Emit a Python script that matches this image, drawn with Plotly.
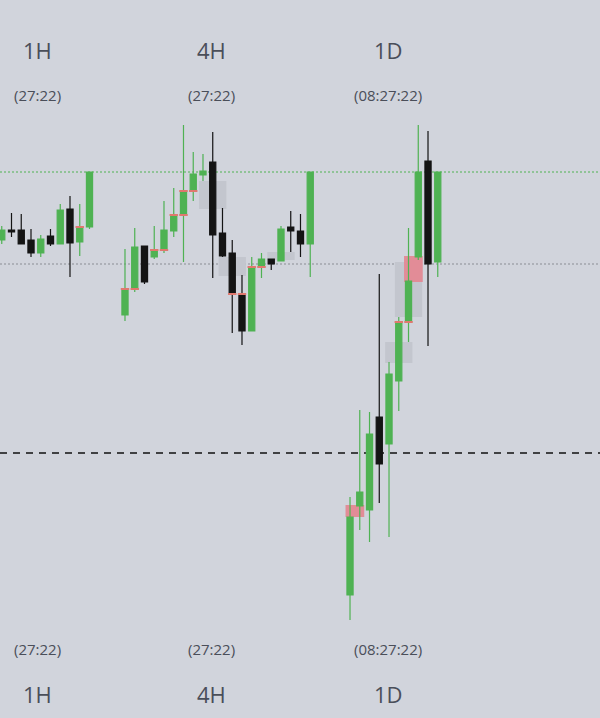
import numpy as np
import plotly.graph_objects as go

# price units: one unit per screen pixel of the original chart
TIMEFRAMES = ['1H', '4H', '1D']
COUNTDOWNS = ['(27:22)', '(27:22)', '(08:27:22)']

open_1h = [478, 488, 488, 478, 465, 482, 474, 509, 476, 491]
high_1h = [492, 505, 504, 489, 483, 489, 514, 522, 514, 546]
low_1h = [474, 481, 474, 461, 461, 472, 474, 441, 462, 489]
close_1h = [488, 486, 474, 465, 479, 474, 508, 475, 491, 546]

open_4h = [403, 429, 472, 461, 468, 487, 503, 527, 543, 556,
           485, 465, 424, 387, 451, 459, 457, 491, 487, 474]
high_4h = [469, 490, 472, 492, 517, 530, 593, 566, 564, 586,
           510, 478, 443, 461, 465, 459, 492, 507, 504, 546]
low_4h = [397, 426, 434, 459, 465, 481, 456, 517, 537, 440,
          461, 385, 373, 387, 440, 448, 457, 466, 461, 441]
close_4h = [429, 471, 436, 468, 488, 503, 527, 544, 547, 483,
            462, 424, 387, 451, 459, 454, 489, 487, 474, 546]

open_1d = [123, 212, 208, 301, 274, 337, 396, 461, 557, 456]
high_1d = [221, 308, 306, 444, 356, 401, 490, 593, 587, 546]
low_1d = [98, 188, 176, 215, 181, 307, 376, 458, 372, 441]
close_1d = [201, 226, 284, 254, 344, 396, 437, 546, 454, 546]

# equal-level markers: (candle index, level)
equal_1h_idx = [8]
equal_1h_lvl = [491]
equal_4h_idx = [0, 1, 3, 4, 5, 6, 6, 7, 11, 12, 13, 14]
equal_4h_lvl = [429, 429, 468, 468, 503, 503, 527, 527, 424, 424, 451, 451]
equal_1d_idx = [5, 6]
equal_1d_lvl = [396, 396]

# higher timeframe ghost bodies: centre candle, low, high
ghost_tf = ['4H', '4H', '4H', '1D', '1D']
ghost_idx = [9, 11, 16, 5, 6]
ghost_low = [509, 442, 458, 355, 401]
ghost_high = [537, 461, 466, 376, 456]

# gaps between two neighbouring candles
gap_tf = ['1D', '1D']
gap_idx = [0, 6]
gap_low = [201, 436]
gap_high = [213, 462]

level_upper = 546
level_mid = 454
level_open = 265

BG = '#d1d4dc'
GREEN = '#4fb253'
BLACK = '#141414'
EQUAL = '#e0786e'
GHOST = '#c3c6ce'
GAP = '#e28c97'
TEXT = '#4a4e59'

SLOT_OFFSET = {'1H': 0.0, '4H': 12.64, '1D': 35.72}
HALF = 0.43

ohlc = {
    '1H': (open_1h, high_1h, low_1h, close_1h),
    '4H': (open_4h, high_4h, low_4h, close_4h),
    '1D': (open_1d, high_1d, low_1d, close_1d),
}
equal = {
    '1H': (equal_1h_idx, equal_1h_lvl),
    '4H': (equal_4h_idx, equal_4h_lvl),
    '1D': (equal_1d_idx, equal_1d_lvl),
}

fig = go.Figure()

for tf in TIMEFRAMES:
    o, h, l, c = ohlc[tf]
    x = SLOT_OFFSET[tf] + np.arange(len(o))
    fig.add_trace(go.Candlestick(
        x=x, open=o, high=h, low=l, close=c,
        increasing=dict(line=dict(color=GREEN, width=1.2), fillcolor=GREEN),
        decreasing=dict(line=dict(color=BLACK, width=1.2), fillcolor=BLACK),
        whiskerwidth=0,
        showlegend=False,
        hoverinfo='skip',
    ))

seg_x, seg_y = [], []
for tf in TIMEFRAMES:
    for i, lvl in zip(*equal[tf]):
        cx = SLOT_OFFSET[tf] + i
        seg_x += [cx - HALF, cx + HALF, None]
        seg_y += [lvl, lvl, None]
fig.add_trace(go.Scatter(
    x=seg_x, y=seg_y, mode='lines',
    line=dict(color=EQUAL, width=2),
    showlegend=False, hoverinfo='skip',
))

shapes = []
for tf, i, lo, hi in zip(ghost_tf, ghost_idx, ghost_low, ghost_high):
    cx = SLOT_OFFSET[tf] + i
    shapes.append(dict(type='rect', xref='x', yref='y', layer='below',
                       x0=cx - 1.4, x1=cx + 1.4, y0=lo, y1=hi,
                       fillcolor=GHOST, line=dict(width=0)))
for tf, i, lo, hi in zip(gap_tf, gap_idx, gap_low, gap_high):
    cx = SLOT_OFFSET[tf] + i
    shapes.append(dict(type='rect', xref='x', yref='y', layer='below',
                       x0=cx - HALF - 0.03, x1=cx + 1 + HALF + 0.03,
                       y0=lo, y1=hi,
                       fillcolor=GAP, line=dict(width=0)))

for lvl, color, dash, width in [
        (level_upper, GREEN, '2px,2px', 1),
        (level_mid, '#8a8d94', '2px,2px', 1),
        (level_open, '#111111', '7px,6px', 1.6)]:
    shapes.append(dict(type='line', xref='paper', yref='y', layer='below',
                       x0=0, x1=1, y0=lvl, y1=lvl,
                       line=dict(color=color, width=width, dash=dash)))

label_x = [0.062, 0.353, 0.647]
annotations = []
for tf, cd, lx in zip(TIMEFRAMES, COUNTDOWNS, label_x):
    for ty, text, size in [(0.930, tf, 22), (0.868, cd, 15),
                           (0.096, cd, 15), (0.033, tf, 22)]:
        annotations.append(dict(
            x=lx, y=ty, xref='paper', yref='paper', text=text,
            showarrow=False, xanchor='center', yanchor='middle',
            font=dict(family='Open Sans, sans-serif', size=size, color=TEXT),
        ))

fig.update_layout(
    width=600, height=718,
    margin=dict(l=0, r=0, t=0, b=0),
    paper_bgcolor=BG, plot_bgcolor=BG,
    boxgap=0.1,
    shapes=shapes,
    annotations=annotations,
    xaxis=dict(range=[-0.18, 61.36], visible=False,
               rangeslider=dict(visible=False)),
    yaxis=dict(range=[0, 718], visible=False),
    showlegend=False,
)

# page body has a default margin; drop it so the figure fills the window
fig.write_html("out.html",
               config={'displayModeBar': False},
               post_script="document.body.style.margin = '0';")
